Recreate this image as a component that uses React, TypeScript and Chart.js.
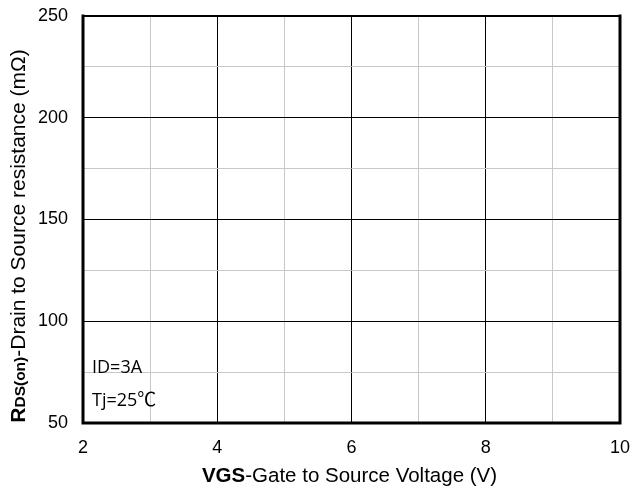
import React, { useEffect, useRef } from "react";
import { Chart, registerables } from "chart.js";

Chart.register(...registerables);

// Axis ranges and tick labels
const xMin = 2;
const xMax = 10;
const xStep = 1;
const xLabelTicks = [2, 4, 6, 8, 10];
const yMin = 50;
const yMax = 250;
const yStep = 25;
const yLabelTicks = [50, 100, 150, 200, 250];

// Series (the reference shows an empty grid)
const seriesX: number[] = [];
const seriesY: number[] = [];

const xTitleBold = "VGS";
const xTitleRest = "-Gate to Source Voltage (V)";
const yTitleMain = "R";
const yTitleSub = "DS(on)";
const yTitleRest = "-Drain to Source resistance (mΩ)";
const note1 = "ID=3A";
const note2 = "Tj=25";
const note2Unit = "℃";

const SANS = "'Liberation Sans', Arial, sans-serif";
const NOTE_FONT = "'Open Sans', 'Noto Sans', sans-serif";
const CJK = "'Noto Sans CJK SC', sans-serif";

const decorPlugin = {
  id: "decor",
  afterDraw(chart: any) {
    const { ctx, chartArea } = chart;
    const { left, right, top, bottom } = chartArea;
    ctx.save();
    // frame
    ctx.strokeStyle = "#000";
    ctx.lineCap = "square";
    ctx.lineWidth = 2;
    ctx.beginPath();
    ctx.moveTo(left, top);
    ctx.lineTo(right, top);
    ctx.stroke();
    ctx.lineWidth = 3;
    ctx.beginPath();
    ctx.moveTo(left, top);
    ctx.lineTo(left, bottom);
    ctx.lineTo(right, bottom);
    ctx.lineTo(right, top);
    ctx.stroke();

    // notes
    ctx.fillStyle = "#000";
    ctx.font = `18px ${NOTE_FONT}`;
    ctx.textBaseline = "alphabetic";
    ctx.textAlign = "left";
    ctx.fillText(note1, left + 9, 373);
    ctx.fillText(note2, left + 9, 406);
    const wn = ctx.measureText(note2).width;
    ctx.font = `19px ${CJK}`;
    ctx.fillText(note2Unit, left + 9 + wn, 406);

    // x title
    const boldF = `bold 20.5px ${SANS}`;
    const normF = `20.5px ${SANS}`;
    ctx.font = boldF;
    const wb = ctx.measureText(xTitleBold).width;
    ctx.font = normF;
    const wr = ctx.measureText(xTitleRest).width;
    const cx = (left + right) / 2 - 2;
    const x0 = cx - (wb + wr) / 2;
    ctx.font = boldF;
    ctx.fillText(xTitleBold, x0, 482);
    ctx.font = normF;
    ctx.fillText(xTitleRest, x0 + wb, 482);

    // y title
    const mainF = `bold 21px ${SANS}`;
    const subF = `bold 15.5px ${SANS}`;
    const restF = `21px ${SANS}`;
    ctx.font = mainF;
    const w1 = ctx.measureText(yTitleMain).width;
    ctx.font = subF;
    const w2 = ctx.measureText(yTitleSub).width;
    ctx.font = restF;
    const w3 = ctx.measureText(yTitleRest).width;
    const total = w1 + w2 + w3;
    ctx.translate(25, 236);
    ctx.rotate(-Math.PI / 2);
    let s = -total / 2;
    ctx.font = mainF;
    ctx.fillText(yTitleMain, s, 0);
    s += w1;
    ctx.font = subF;
    ctx.fillText(yTitleSub, s, 0);
    s += w2;
    ctx.font = restF;
    ctx.fillText(yTitleRest, s, 0);
    ctx.restore();
  },
};

export default function App() {
  const ref = useRef<HTMLCanvasElement | null>(null);
  useEffect(() => {
    if (!ref.current) return;
    const chart = new Chart(ref.current, {
      type: "scatter",
      data: {
        datasets: [
          {
            data: seriesX.map((x, i) => ({ x, y: seriesY[i] })),
            borderColor: "#000",
            showLine: true,
            pointRadius: 0,
          },
        ],
      },
      options: {
        responsive: false,
        animation: false,
        layout: { padding: { left: 0, right: 13, top: 16, bottom: 0 } },
        plugins: { legend: { display: false }, tooltip: { enabled: false } },
        scales: {
          x: {
            type: "linear",
            min: xMin,
            max: xMax,
            border: { display: false },
            grid: { color: (c: any) => (c.tick && xLabelTicks.includes(c.tick.value) ? "#000" : "#c8c8c8"), drawTicks: false, lineWidth: 1 },
            ticks: {
              stepSize: xStep,
              padding: 14,
              color: "#000",
              font: { family: SANS, size: 18 },
              maxRotation: 0,
              autoSkip: false,
              callback: (v: any) => (xLabelTicks.includes(Number(v)) ? String(v) : ""),
            },
            afterFit: (scale: any) => {
              scale.height = 65;
              scale.paddingLeft = 0;
              scale.paddingRight = 0;
            },
          },
          y: {
            type: "linear",
            min: yMin,
            max: yMax,
            border: { display: false },
            grid: { color: (c: any) => (c.tick && yLabelTicks.includes(c.tick.value) ? "#000" : "#c8c8c8"), drawTicks: false, lineWidth: 1 },
            ticks: {
              stepSize: yStep,
              padding: 15,
              color: "#000",
              font: { family: SANS, size: 18 },
              autoSkip: false,
              callback: (v: any) => (yLabelTicks.includes(Number(v)) ? String(v) : ""),
            },
            afterFit: (scale: any) => {
              scale.width = 83;
              scale.paddingTop = 0;
              scale.paddingBottom = 0;
            },
          },
        },
      },
      plugins: [decorPlugin],
    });
    return () => chart.destroy();
  }, []);
  return (
    <div style={{ position: "absolute", left: 0, top: 0, width: 633, height: 488, background: "#fff" }}>
      <canvas ref={ref} width={633} height={488} style={{ display: "block" }} />
    </div>
  );
}
